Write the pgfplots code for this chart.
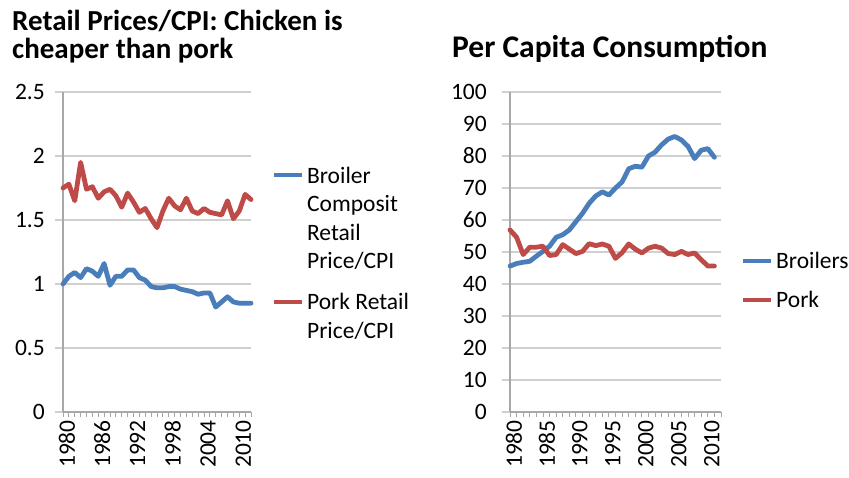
\documentclass[border=0pt]{standalone}
\usepackage{fontspec}
\setmainfont{Carlito}
\usepackage{pgfplots}
\pgfplotsset{compat=1.18}
\definecolor{cblue}{HTML}{4A7EBB}
\definecolor{cred}{HTML}{BE4B48}
\definecolor{cgrid}{HTML}{D0D0D0}
\definecolor{caxis}{HTML}{A8A8A8}

\pgfplotsset{
  common/.style={
    scale only axis, anchor=south west,
    axis x line*=bottom, axis y line*=left,
    axis line style={draw=caxis, line width=1.2pt},
    ymajorgrids, grid style={draw=cgrid, line width=1.3pt},
    tick align=outside,
    major tick length=8pt, minor tick length=5pt,
    xtick style={draw=caxis, line width=0.9pt, /pgfplots/major tick length=5pt},
    every minor x tick/.append style={draw=caxis, line width=0.9pt},
    ytick style={draw=cgrid, line width=1.3pt},
    ticklabel style={font=\fontsize{23.5}{26}\selectfont},
    /pgf/number format/assume math mode=true,
    xticklabel style={rotate=90, anchor=east, inner sep=0pt, yshift=-4pt},
    yticklabel style={anchor=east, inner sep=0pt},
    clip=false,
    legend style={draw=none, fill=none, inner sep=0pt,
      font=\fontsize{23.5}{28.6}\selectfont,
      cells={anchor=base west, inner sep=0pt}, column sep=0.75pt},
    legend image code/.code={\draw[##1, line width=4.5pt, line cap=butt] (0pt,8pt) -- (28pt,8pt);},
  },
  lowlegend/.style={legend image code/.code={\draw[##1, line width=4.5pt, line cap=butt] (0pt,-4.4pt) -- (28pt,-4.4pt);}},
  series/.style={line width=4.8pt, line join=round, line cap=round, #1},
}

\begin{document}
\begin{tikzpicture}[x=1pt,y=1pt]
\fill[white] (0,0) rectangle (849,477);
\path[use as bounding box] (0,0) rectangle (849,477);

% titles
\node[anchor=base west, inner sep=0pt, font=\fontsize{29}{28}\selectfont\bfseries] at (12,446) {Retail Prices/CPI: Chicken is};
\node[anchor=base west, inner sep=0pt, font=\fontsize{29}{28}\selectfont\bfseries] at (12,418) {cheaper than pork};
\node[anchor=base west, inner sep=0pt, font=\fontsize{31.5}{30}\selectfont\bfseries] at (452,419) {Per Capita Consumption};

% left chart
\begin{axis}[common, at={(63pt,65pt)}, width=188pt, height=320pt,
  xmin=1980, xmax=2012, ymin=0, ymax=2.5,
  ytick={0,0.5,1,1.5,2,2.5}, yticklabels={0,0.5,1,1.5,2,2.5},
  yticklabel style={xshift=-10pt},
  xtick={1980,1986,1992,1998,2004,2010},
  xticklabels={1980,1986,1992,1998,2004,2010},
  minor xtick={1980,...,2012},
  legend style={at={(1.110,0.773)}, anchor=north west, row sep={28.6pt,between origins}},
]
\addplot[series=cblue] coordinates {
(1980,1.00)(1981,1.06)(1982,1.09)(1983,1.05)(1984,1.12)(1985,1.10)(1986,1.06)(1987,1.16)
(1988,0.99)(1989,1.06)(1990,1.06)(1991,1.11)(1992,1.11)(1993,1.05)(1994,1.03)(1995,0.98)
(1996,0.97)(1997,0.97)(1998,0.98)(1999,0.98)(2000,0.96)(2001,0.95)(2002,0.94)(2003,0.92)
(2004,0.93)(2005,0.93)(2006,0.82)(2007,0.86)(2008,0.90)(2009,0.86)(2010,0.85)(2011,0.85)(2012,0.85)};
\addlegendentry{Broiler}
\addlegendimage{empty legend}\addlegendentry{Composit}
\addlegendimage{empty legend}\addlegendentry{Retail}
\addlegendimage{empty legend}\addlegendentry{Price/CPI}
\addplot[series=cred, lowlegend] coordinates {
(1980,1.75)(1981,1.78)(1982,1.65)(1983,1.95)(1984,1.74)(1985,1.76)(1986,1.67)(1987,1.72)
(1988,1.74)(1989,1.69)(1990,1.60)(1991,1.71)(1992,1.64)(1993,1.56)(1994,1.59)(1995,1.51)
(1996,1.44)(1997,1.57)(1998,1.67)(1999,1.61)(2000,1.58)(2001,1.67)(2002,1.57)(2003,1.55)
(2004,1.59)(2005,1.56)(2006,1.55)(2007,1.54)(2008,1.65)(2009,1.51)(2010,1.57)(2011,1.70)(2012,1.66)};
\addlegendentry{\raisebox{-12.4pt}{Pork Retail}}
\addlegendimage{empty legend}\addlegendentry{\raisebox{-12.4pt}{Price/CPI}}
\end{axis}

% right chart
\begin{axis}[common, at={(510pt,65pt)}, width=211pt, height=320pt,
  xmin=1980, xmax=2012, ymin=0, ymax=100,
  ytick={0,10,...,100}, yticklabels={0,10,20,30,40,50,60,70,80,90,100},
  yticklabel style={xshift=-15pt},
  xtick={1980,1985,...,2010},
  xticklabels={1980,1985,1990,1995,2000,2005,2010},
  minor xtick={1980,...,2012},
  legend style={at={(1.0936,0.505)}, anchor=north west, row sep={39pt,between origins}},
]
\addplot[series=cblue] coordinates {
(1980,45.6)(1981,46.4)(1982,46.8)(1983,47.1)(1984,48.7)(1985,50.2)(1986,51.8)(1987,54.6)
(1988,55.4)(1989,56.9)(1990,59.5)(1991,62.1)(1992,65.2)(1993,67.5)(1994,68.8)(1995,67.8)
(1996,70.0)(1997,71.9)(1998,76.0)(1999,76.8)(2000,76.5)(2001,80.0)(2002,81.2)(2003,83.5)
(2004,85.3)(2005,86.1)(2006,85.0)(2007,83.0)(2008,79.2)(2009,81.8)(2010,82.3)(2011,79.6)};
\addlegendentry{Broilers}
\addplot[series=cred] coordinates {
(1980,56.9)(1981,54.6)(1982,49.2)(1983,51.5)(1984,51.5)(1985,51.8)(1986,48.9)(1987,49.2)
(1988,52.3)(1989,50.9)(1990,49.5)(1991,50.2)(1992,52.6)(1993,52.0)(1994,52.5)(1995,51.8)
(1996,48.0)(1997,49.8)(1998,52.5)(1999,50.9)(2000,49.7)(2001,51.2)(2002,51.8)(2003,51.2)
(2004,49.5)(2005,49.2)(2006,50.2)(2007,49.2)(2008,49.7)(2009,47.6)(2010,45.6)(2011,45.6)};
\addlegendentry{Pork}
\end{axis}
\end{tikzpicture}
\end{document}
